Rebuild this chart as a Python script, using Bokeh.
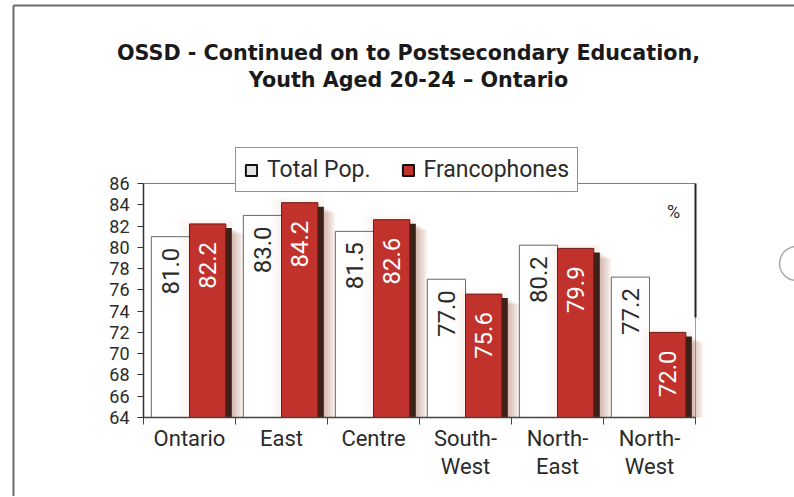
import numpy as np
from bokeh.plotting import figure
from bokeh.models import (ColumnDataSource, Range1d, FixedTicker, Legend, LegendItem)
from bokeh.core.properties import value
from bokeh.embed import file_html
from bokeh.resources import INLINE

# ---------------- data ----------------
regions = ["Ontario", "East", "Centre", "South-\nWest", "North-\nEast", "North-\nWest"]
total_pop = [81.0, 83.0, 81.5, 77.0, 80.2, 77.2]
francophones = [82.2, 84.2, 82.6, 75.6, 79.9, 72.0]
y_ticks = list(range(64, 87, 2))
series_names = ["Total Pop.", "Francophones"]
title_lines = ["OSSD - Continued on to Postsecondary Education,",
               "Youth Aged 20-24 \u2013 Ontario"]
unit_label = "%"

# ---------------- layout / style ----------------
W, H = 794, 496
FRAME_L, FRAME_R, FRAME_T, FRAME_B = 143, 695, 183, 417
FONT = "Roboto"
TITLE_FONT = "DejaVu Sans"
RED = "#c1322d"
SHADOW = "#3b2218"
TXT = "#2b2b2b"

n = len(regions)
idx = np.arange(n)
y0, y1 = y_ticks[0], y_ticks[-1]
xs = (FRAME_R - FRAME_L) / n          # px per category
ys = (FRAME_B - FRAME_T) / (y1 - y0)  # px per unit


def X(px):
    return (px - FRAME_L) / xs


def Y(py):
    return y1 - (py - FRAME_T) / ys


src = ColumnDataSource(dict(
    w_left=idx + 0.085, w_right=idx + 0.50,
    r_left=idx + 0.50, r_right=idx + 0.895,
    s_left=idx + 0.565, s_right=idx + 0.96,
    w_mid=idx + 0.2925, r_mid=idx + 0.6975,
    tp=total_pop, fr=francophones,
    fr_sh=[v - 4 / ys for v in francophones],
    tp_lbl=[f"{v:.1f}" for v in total_pop],
    fr_lbl=[f"{v:.1f}" for v in francophones],
    bottom=[y0] * n,
))

p = figure(width=W, height=H, output_backend="svg", toolbar_location=None, title=None,
           x_range=Range1d(X(0), X(W)), y_range=Range1d(Y(H), Y(0)),
           min_border=0, min_border_left=0, min_border_right=0,
           min_border_top=0, min_border_bottom=0,
           background_fill_color="white", border_fill_color="white",
           outline_line_color=None)
p.xgrid.visible = False
p.ygrid.visible = False

# outer page frame
p.segment(x0=[X(13)], y0=[Y(5)], x1=[X(13)], y1=[Y(H + 10)], line_color="#6a6a6a", line_width=2)
p.segment(x0=[X(13)], y0=[Y(5)], x1=[X(W + 10)], y1=[Y(5)], line_color="#6a6a6a", line_width=2)
# side marker circle
p.scatter(x=[X(796)], y=[Y(263)], size=34, marker="circle", fill_color=None,
          line_color="#a8a8a8", line_width=1.5)

# plot box
p.segment(x0=[0], y0=[y1], x1=[n], y1=[y1], line_color="#808080", line_width=1)
p.segment(x0=[n], y0=[y1], x1=[n], y1=[y0], line_color="#a0a0a0", line_width=1)

# white bars
p.quad(left="w_left", right="w_right", bottom="bottom", top="tp", source=src,
       fill_color="white", line_color="#666666", line_width=1)

# soft glow around red bars (halo above and spill onto white bars)
for k in range(1, 5):
    p.quad(left=idx + 0.50 - 0.028 * k, right=idx + 0.96, bottom=[y0] * n,
           top=[v + 0.12 * k for v in francophones],
           fill_color="#d9a090", fill_alpha=0.035, line_color=None)
# soft glow right of shadow
for k in range(1, 6):
    p.quad(left=idx + 0.95, right=idx + 0.96 + 0.024 * k, bottom=[y0] * n,
           top=[v - 0.35 - 0.12 * k for v in francophones],
           fill_color="#a86650", fill_alpha=0.10, line_color=None)

# hard shadow
p.quad(left="s_left", right="s_right", bottom="bottom", top="fr_sh", source=src,
       fill_color=SHADOW, line_color=None)
# red bars
p.quad(left="r_left", right="r_right", bottom="bottom", top="fr", source=src,
       fill_color=RED, line_color="#6e1a16", line_width=1)

# value labels
p.text(x="w_mid", y="tp", text="tp_lbl", source=src, angle=np.pi / 2,
       text_align="right", text_baseline="middle", y_offset=11,
       text_font=value(FONT), text_font_size="24px", text_color=TXT)
p.text(x="r_mid", y="fr", text="fr_lbl", source=src, angle=np.pi / 2,
       text_align="right", text_baseline="middle", y_offset=18,
       text_font=value(FONT), text_font_size="24px", text_color="white")

# right edge dark stroke
p.segment(x0=[n], y0=[y1], x1=[n], y1=[Y(317)], line_color="#222222", line_width=2)

# unit label
p.text(x=[X(673)], y=[Y(211)], text=[unit_label], text_align="center",
       text_baseline="middle", text_font=value(FONT), text_font_size="18px",
       text_color=TXT)

# title
p.text(x=[X(408)] * 2, y=[Y(52), Y(79)], text=title_lines, text_align="center",
       text_baseline="middle", text_font=value(TITLE_FONT), text_font_style="bold",
       text_font_size="20.7px", text_color="#1a1a1a")

# axes (fixed inside the frame)
p.yaxis.fixed_location = 0
p.yaxis.bounds = (y0, y1)
p.yaxis.ticker = FixedTicker(ticks=y_ticks)
p.yaxis.major_tick_out = 6
p.yaxis.major_tick_in = 0
p.yaxis.minor_tick_line_color = None
p.yaxis.axis_line_color = "#333333"
p.yaxis.axis_line_width = 1.5
p.yaxis.major_tick_line_color = "#333333"
p.yaxis.major_label_text_font = FONT
p.yaxis.major_label_text_font_size = "18px"
p.yaxis.major_label_text_color = TXT
p.yaxis.major_label_standoff = 8

p.xaxis.fixed_location = y0
p.xaxis.bounds = (0, n)
p.xaxis.ticker = FixedTicker(ticks=list(idx + 0.5), minor_ticks=list(range(n + 1)))
p.xaxis.major_label_overrides = {float(i + 0.5): r for i, r in enumerate(regions)}
p.xaxis.major_tick_line_color = None
p.xaxis.major_tick_out = 0
p.xaxis.major_tick_in = 0
p.xaxis.minor_tick_out = 7
p.xaxis.minor_tick_in = 0
p.xaxis.minor_tick_line_color = "#444444"
p.xaxis.axis_line_color = "#444444"
p.xaxis.axis_line_width = 1.5
p.xaxis.major_label_text_font = FONT
p.xaxis.major_label_text_font_size = "22px"
p.xaxis.major_label_text_color = TXT
p.xaxis.major_label_standoff = 1
p.xaxis.major_label_text_line_height = 1.12

# legend with placeholder swatches (NaN geometry: nothing drawn in the plot)
nan = float("nan")
g1 = p.quad(left=[nan], right=[nan], top=[nan], bottom=[nan],
            fill_color="#e2e4e6", line_color="#111111", line_width=2)
g2 = p.quad(left=[nan], right=[nan], top=[nan], bottom=[nan],
            fill_color=RED, line_color="#111111", line_width=2)
legend = Legend(items=[LegendItem(label=series_names[0], renderers=[g1], index=0),
                       LegendItem(label=series_names[1], renderers=[g2], index=0)],
                location=(235, H - 192), orientation="horizontal",
                glyph_width=14, glyph_height=14, label_standoff=9, spacing=30,
                padding=8, margin=0,
                label_text_font=FONT, label_text_font_size="23px", label_text_color=TXT,
                border_line_color="#222222", border_line_width=1,
                background_fill_color="white", background_fill_alpha=1)
p.add_layout(legend, "center")

open("out.html", "w").write(file_html(p, INLINE))
